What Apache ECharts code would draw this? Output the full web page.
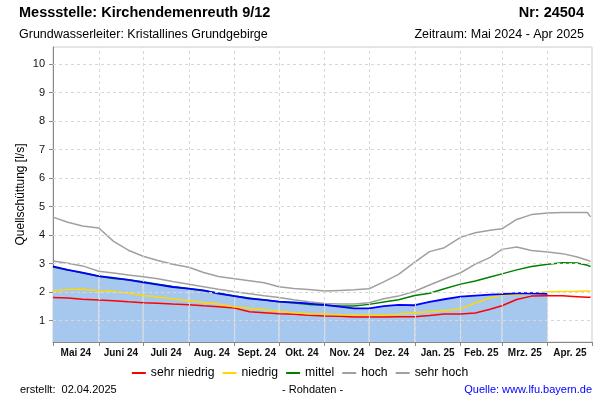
<!DOCTYPE html>
<html><head><meta charset="utf-8">
<script src="https://cdn.jsdelivr.net/npm/echarts@6/dist/echarts.min.js"></script>
<style>html,body{margin:0;padding:0;background:#fff}#c{width:600px;height:400px}</style>
</head><body><div id="c"></div>
<script>
// ---- data ----
const dates = ['2024-05-01','2024-05-11','2024-05-21','2024-06-01','2024-06-11','2024-06-21','2024-07-01','2024-07-11','2024-07-21','2024-08-01','2024-08-11','2024-08-21','2024-09-01','2024-09-11','2024-09-21','2024-10-01','2024-10-11','2024-10-21','2024-11-01','2024-11-11','2024-11-21','2024-12-01','2024-12-11','2024-12-21','2025-01-01','2025-01-11','2025-01-21','2025-02-01','2025-02-11','2025-02-21','2025-03-01','2025-03-11','2025-03-21','2025-04-01','2025-04-11','2025-04-21','2025-04-28','2025-04-30'];
const sehrHoch    = [4.63,4.45,4.32,4.25,3.78,3.47,3.26,3.11,2.98,2.87,2.69,2.55,2.47,2.40,2.33,2.19,2.13,2.09,2.04,2.06,2.08,2.12,2.36,2.62,3.05,3.42,3.56,3.92,4.08,4.17,4.22,4.55,4.72,4.78,4.79,4.79,4.79,4.64];
const hoch        = [3.09,3.01,2.92,2.73,2.67,2.60,2.54,2.47,2.37,2.28,2.19,2.10,2.01,1.94,1.87,1.81,1.73,1.66,1.60,1.58,1.58,1.63,1.77,1.86,2.03,2.25,2.46,2.68,2.98,3.22,3.50,3.58,3.46,3.41,3.35,3.23,3.12,3.07];
const mittel      = [2.88,2.78,2.67,2.56,2.48,2.43,2.36,2.28,2.20,2.12,2.05,1.97,1.86,1.79,1.72,1.66,1.62,1.57,1.54,1.51,1.51,1.57,1.65,1.73,1.88,1.96,2.12,2.28,2.39,2.53,2.64,2.78,2.90,2.98,3.03,3.02,2.94,2.90];
const niedrig     = [2.04,2.09,2.10,2.05,2.02,1.96,1.88,1.83,1.76,1.70,1.64,1.58,1.48,1.43,1.38,1.33,1.28,1.24,1.23,1.21,1.21,1.20,1.19,1.22,1.28,1.31,1.35,1.42,1.62,1.80,1.89,1.92,1.96,2.01,2.02,2.03,2.04,2.04];
const sehrNiedrig = [1.81,1.79,1.75,1.72,1.70,1.66,1.63,1.61,1.58,1.56,1.52,1.49,1.44,1.31,1.28,1.24,1.22,1.19,1.16,1.15,1.13,1.13,1.13,1.14,1.14,1.18,1.23,1.23,1.27,1.40,1.52,1.74,1.86,1.87,1.87,1.84,1.82,1.82];
const aktuell     = [2.90,2.78,2.68,2.56,2.50,2.43,2.34,2.26,2.18,2.12,2.06,1.95,1.86,1.77,1.73,1.67,1.64,1.60,1.55,1.49,1.43,1.43,1.51,1.55,1.54,1.66,1.75,1.84,1.88,1.91,1.93,1.96,1.96,1.94];
const monthStarts = ['2024-05-01','2024-06-01','2024-07-01','2024-08-01','2024-09-01','2024-10-01','2024-11-01','2024-12-01','2025-01-01','2025-02-01','2025-03-01','2025-04-01','2025-05-01'];
const monthLabels = ['Mai 24','Juni 24','Juli 24','Aug. 24','Sept. 24','Okt. 24','Nov. 24','Dez. 24','Jan. 25','Feb. 25','Mrz. 25','Apr. 25'];
const yTicks = [1,2,3,4,5,6,7,8,9,10];

// ---- helpers ----
const ts = s => { const [y,m,d] = s.split('-').map(Number); return Date.UTC(y, m-1, d); };
const pairs = arr => arr.map((v,i) => [ts(dates[i]), v]);
const msTs = monthStarts.map(ts);
const midTs = monthLabels.map((_, i) => (msTs[i] + msTs[i+1]) / 2);
const labelMap = {}; midTs.forEach((t,i) => labelMap[t] = monthLabels[i]);
const dateIdx = {}; dates.forEach((d,i) => dateIdx[d] = i);
const innerStarts = monthStarts.slice(1, -1);
const overBlue = innerStarts.filter(d => dateIdx[d] !== undefined && dateIdx[d] < aktuell.length)
  .map(d => [ts(d), aktuell[dateIdx[d]]]);

const FONT = '"Liberation Sans", Arial, sans-serif';
const gridLine = { type: [3, 3], color: '#d8d8d8', width: 1 };
const statLine = (name, data, color) => ({
  name, type: 'line', data: pairs(data), showSymbol: false, symbol: 'none', z: 3,
  lineStyle: { color, width: 1.5 }, itemStyle: { color }, animation: false
});

const chart = echarts.init(document.getElementById('c'), null, { renderer: 'canvas' });
chart.setOption({
  backgroundColor: '#fff',
  animation: false,
  textStyle: { fontFamily: FONT },
  title: [
    { text: 'Messstelle: Kirchendemenreuth 9/12', left: 19, top: 5, padding: 0, textStyle: { fontFamily: FONT, fontSize: 14.5, fontWeight: 'bold', color: '#000' } },
    { text: 'Nr: 24504', right: 16, top: 5, padding: 0, textStyle: { fontFamily: FONT, fontSize: 14.5, fontWeight: 'bold', color: '#000' } },
    { text: 'Grundwasserleiter: Kristallines Grundgebirge', left: 19, top: 28, padding: 0, textStyle: { fontFamily: FONT, fontSize: 12.5, fontWeight: 'normal', color: '#000' } },
    { text: 'Zeitraum: Mai 2024 - Apr 2025', right: 16, top: 28, padding: 0, textStyle: { fontFamily: FONT, fontSize: 12.5, fontWeight: 'normal', color: '#000' } },
    { text: 'erstellt:  02.04.2025', left: 20, top: 384, padding: 0, textStyle: { fontFamily: FONT, fontSize: 11, fontWeight: 'normal', color: '#000' } },
    { text: '- Rohdaten -', left: 282, top: 384, padding: 0, textStyle: { fontFamily: FONT, fontSize: 11, fontWeight: 'normal', color: '#000' } },
    { text: 'Quelle: www.lfu.bayern.de', right: 8, top: 384, padding: 0, textStyle: { fontFamily: FONT, fontSize: 11, fontWeight: 'normal', color: '#0000ff' } }
  ],
  legend: {
    data: ['sehr niedrig','niedrig','mittel','hoch','sehr hoch'],
    left: 'center', top: 362, itemWidth: 14, itemHeight: 2, itemGap: 8, icon: 'rect',
    textStyle: { fontFamily: FONT, fontSize: 12.2, color: '#000' },
    selectedMode: false
  },
  grid: { left: 53, right: 8, top: 47, bottom: 58, show: true, borderColor: '#cccccc', borderWidth: 1, backgroundColor: 'transparent' },
  xAxis: {
    type: 'value', min: msTs[0], max: msTs[msTs.length - 1],
    axisLine: { lineStyle: { color: '#888', width: 1 } },
    axisTick: { show: true, length: 4, lineStyle: { color: '#888' }, customValues: msTs },
    axisLabel: { customValues: midTs, formatter: v => labelMap[v] || '', fontFamily: FONT, fontSize: 10, fontWeight: 'bold', color: '#111', margin: 6, hideOverlap: false },
    splitLine: { show: false }, minorTick: { show: false }
  },
  yAxis: {
    type: 'value', min: 0.25, max: 10.6,
    name: 'Quellschüttung [l/s]', nameLocation: 'middle', nameGap: 26, nameMoveOverlap: false,
    nameTextStyle: { fontFamily: FONT, fontSize: 12, color: '#000' },
    axisLine: { show: true, lineStyle: { color: '#888', width: 1 } },
    axisTick: { show: true, length: 4, lineStyle: { color: '#888' }, customValues: yTicks },
    axisLabel: { customValues: yTicks, fontFamily: FONT, fontSize: 11, color: '#111', margin: 8 },
    splitLine: { show: false }
  },
  series: [
    { name: 'grid', type: 'line', data: [], z: 0, silent: true,
      markLine: { silent: true, symbol: ['none','none'], label: { show: false }, lineStyle: gridLine, animation: false,
        data: innerStarts.map(d => ({ xAxis: ts(d) })).concat(yTicks.map(v => ({ yAxis: v }))) } },
    { name: 'aktuell-fläche', type: 'line', data: pairs(aktuell), showSymbol: false, symbol: 'none', z: 1, silent: true,
      lineStyle: { width: 0 }, areaStyle: { color: '#a6c8ee', opacity: 1 }, animation: false },
    { name: 'monatslinien', type: 'bar', data: overBlue, barWidth: 1, z: 2, silent: true,
      itemStyle: { color: '#e4e4e4' }, animation: false },
    statLine('sehr niedrig', sehrNiedrig, '#ff0000'),
    statLine('niedrig', niedrig, '#ffd800'),
    statLine('mittel', mittel, '#008000'),
    statLine('hoch', hoch, '#a0a0a0'),
    statLine('sehr hoch', sehrHoch, '#a0a0a0'),
    { name: 'aktuell', type: 'line', data: pairs(aktuell), showSymbol: false, symbol: 'none', z: 4,
      lineStyle: { color: '#0000ff', width: 1.8 }, animation: false }
  ]
});
</script></body></html>
